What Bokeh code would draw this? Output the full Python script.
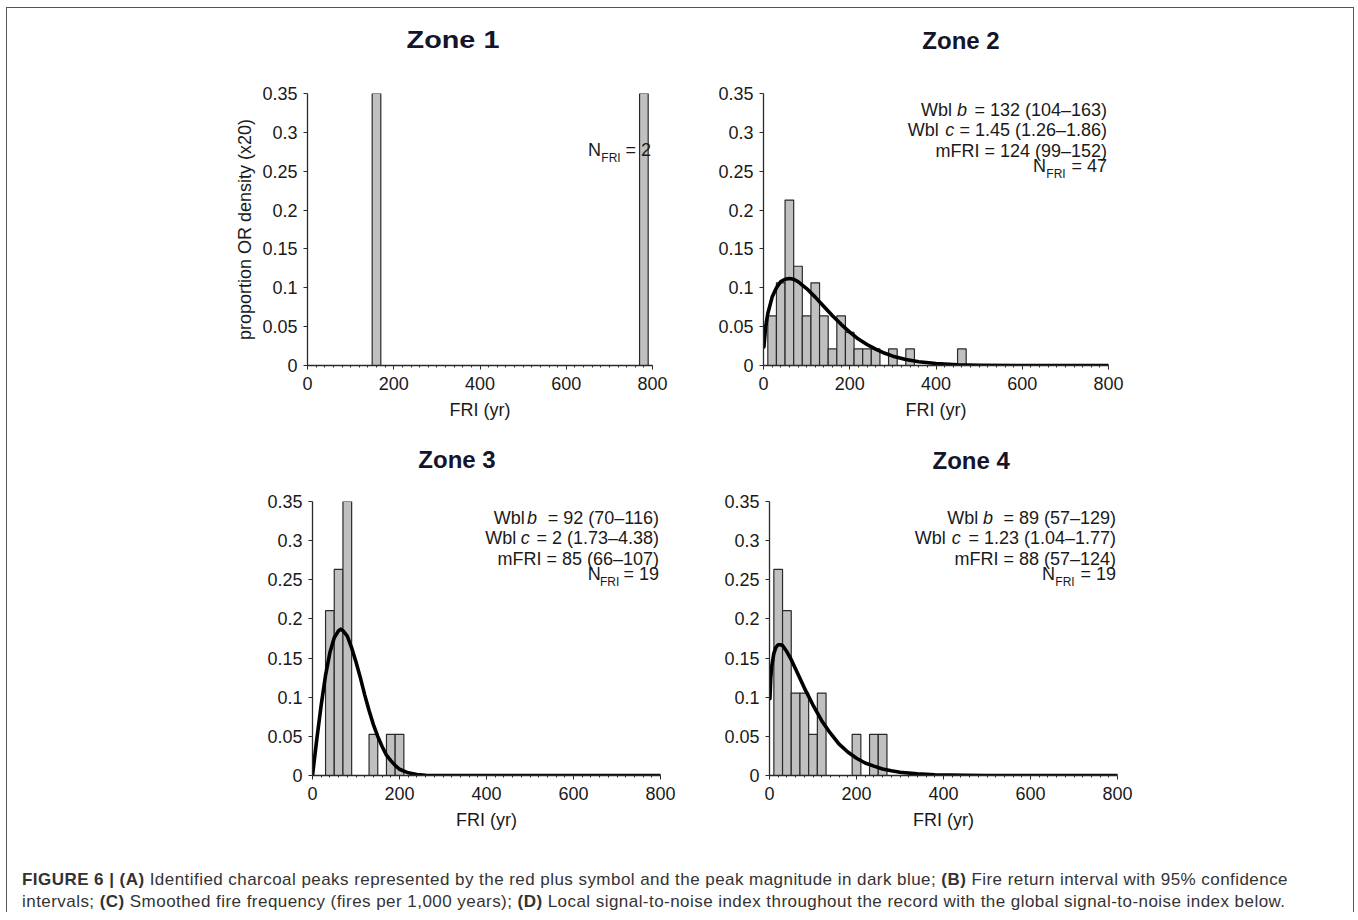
from bokeh.plotting import figure
from bokeh.models import Label, FixedTicker, Div
from bokeh.layouts import row, column
from bokeh.embed import file_html
from bokeh.resources import INLINE

# ---------------- data ----------------
zone_titles = ["Zone 1", "Zone 2", "Zone 3", "Zone 4"]

x_ticks = [0, 200, 400, 600, 800]
y_ticks = [0, 0.05, 0.1, 0.15, 0.2, 0.25, 0.3, 0.35]
y_tick_labels = ["0", "0.05", "0.1", "0.15", "0.2", "0.25", "0.3", "0.35"]

bin_width = 20

z1_centers = [160, 780]
z1_props = [0.5, 0.5]

z2_centers = [20, 40, 60, 80, 100, 120, 140, 160, 180, 200, 220, 240, 260, 300, 340, 460]
z2_props = [0.0638, 0.1064, 0.2128, 0.1277, 0.0638, 0.1064, 0.0638, 0.0213, 0.0638,
            0.0426, 0.0213, 0.0213, 0.0213, 0.0213, 0.0213, 0.0213]

z3_centers = [40, 60, 80, 140, 180, 200]
z3_props = [0.2105, 0.2632, 0.3684, 0.0526, 0.0526, 0.0526]

z4_centers = [20, 40, 60, 80, 100, 120, 200, 240, 260]
z4_props = [0.2632, 0.2105, 0.1053, 0.1053, 0.0526, 0.1053, 0.0526, 0.0526, 0.0526]

z2_curve_x = [1, 5, 10, 20, 30, 40, 50, 60, 70, 80, 100, 120, 140, 160, 180, 200, 220, 240,
              260, 280, 300, 330, 360, 400, 450, 500, 600, 700, 800]
z2_curve_y = [0.024, 0.050, 0.067, 0.088, 0.100, 0.108, 0.111, 0.112, 0.111, 0.108, 0.099,
              0.088, 0.076, 0.064, 0.053, 0.043, 0.034, 0.027, 0.021, 0.016, 0.012, 0.0076,
              0.0048, 0.0025, 0.001, 0.0004, 0.0, 0.0, 0.0]

z3_curve_x = [0, 10, 20, 30, 40, 50, 60, 65, 70, 80, 90, 100, 110, 120, 130, 140, 150, 160,
              170, 180, 190, 200, 220, 240, 260, 300, 400, 500, 600, 700, 800]
z3_curve_y = [0.0, 0.047, 0.090, 0.128, 0.157, 0.176, 0.185, 0.187, 0.185, 0.178, 0.163,
              0.145, 0.125, 0.103, 0.083, 0.065, 0.050, 0.037, 0.026, 0.019, 0.013, 0.008,
              0.0034, 0.0013, 0.0004, 0.0, 0.0, 0.0, 0.0, 0.0, 0.0]

z4_curve_x = [1, 3, 5, 10, 15, 20, 25, 30, 40, 50, 60, 80, 100, 120, 140, 160, 180, 200, 220,
              240, 260, 280, 300, 340, 380, 450, 500, 600, 700, 800]
z4_curve_y = [0.098, 0.125, 0.139, 0.156, 0.164, 0.167, 0.167, 0.166, 0.158, 0.148, 0.136,
              0.112, 0.090, 0.070, 0.054, 0.040, 0.030, 0.022, 0.016, 0.012, 0.0084, 0.006,
              0.0042, 0.0021, 0.001, 0.0002, 0.0, 0.0, 0.0, 0.0]

z2_stats = ["= 132 (104\u2013163)", "= 1.45 (1.26\u20131.86)", "mFRI = 124 (99\u2013152)", "= 47"]
z3_stats = ["= 92 (70\u2013116)", "= 2 (1.73\u20134.38)", "mFRI = 85 (66\u2013107)", "= 19"]
z4_stats = ["= 89 (57\u2013129)", "= 1.23 (1.04\u20131.77)", "mFRI = 88 (57\u2013124)", "= 19"]
z1_stats = ["= 2"]

# ---------------- style / layout ----------------
FONT = "Liberation Sans"
BW = 1.5                       # outer frame border width
ML, MT = 6, 7                  # outer margin of the layout
OX, OY = ML + BW, MT + BW      # page origin of the layout content
CW = 1346                      # content width
TH = 60                        # title strip height
ROW1_H, ROW2_H, CAP_H = 360, 362, 62


def make_panel(W, H, bl, br, bt, bb, ylabel=None):
    p = figure(width=W, height=H, x_range=(0, 800), y_range=(0, 0.35),
               output_backend="svg", toolbar_location=None,
               min_border_left=bl, min_border_right=br,
               min_border_top=bt, min_border_bottom=bb)
    p.outline_line_color = None
    p.grid.visible = False
    p.background_fill_color = "white"
    p.border_fill_color = "white"

    xa = p.xaxis[0]
    xa.ticker = FixedTicker(ticks=x_ticks, minor_ticks=list(range(0, 801, bin_width)))
    xa.axis_label = "FRI (yr)"
    ya = p.yaxis[0]
    ya.ticker = FixedTicker(ticks=y_ticks, minor_ticks=[])
    ya.major_label_overrides = dict(zip(y_ticks, y_tick_labels))
    if ylabel:
        ya.axis_label = ylabel
    for ax in (xa, ya):
        ax.axis_line_color = "#2a2a2a"
        ax.axis_line_width = 1.3
        ax.major_tick_line_color = "#2a2a2a"
        ax.major_tick_in = 0
        ax.major_tick_out = 4
        ax.major_label_text_font = FONT
        ax.major_label_text_font_size = "18px"
        ax.major_label_text_color = "#1a1a1a"
        ax.axis_label_text_font = FONT
        ax.axis_label_text_font_size = "18px"
        ax.axis_label_text_font_style = "normal"
        ax.axis_label_text_color = "#1a1a1a"
    xa.minor_tick_line_color = "#2a2a2a"
    xa.minor_tick_in = 0
    xa.minor_tick_out = 2
    xa.major_label_standoff = 7
    xa.axis_label_standoff = 7
    ya.major_label_standoff = 6
    ya.axis_label_standoff = 4
    return p


def frame_geom(fx, fy, W, H, bl, br, bt, bb):
    L = OX + fx + bl
    R = OX + fx + W - br
    T = OY + fy + bt
    B = OY + fy + H - bb
    return (L, R, T, B)


def seg(p, g, px, py, text, size=18, style="normal", align="left", color="#1a1a1a"):
    L, R, T, B = g
    if align == "right":
        px = min(px, R - 1.5)   # labels are clipped to the plot frame
    x = (px - L) / (R - L) * 800
    y = (B - py) / (B - T) * 0.35
    p.add_layout(Label(x=x, y=y, text=text, text_font=FONT, text_font_size=f"{size}px",
                       text_font_style=style, text_align=align, text_baseline="alphabetic",
                       text_color=color))


def wbl_block(p, g, stats, pos):
    (b_x, b_i, c_x, c_i, rx, n_x, fri_x, n_rx) = pos
    y1, y2, y3, y4, y4s = g[2] + 16.5, g[2] + 36.5, g[2] + 57, g[2] + 72.5, g[2] + 80.5
    seg(p, g, b_x, y1, "Wbl")
    seg(p, g, b_i, y1, "b", style="italic")
    seg(p, g, rx, y1, stats[0], align="right")
    seg(p, g, c_x, y2, "Wbl")
    seg(p, g, c_i, y2, "c", style="italic")
    seg(p, g, rx, y2, stats[1], align="right")
    seg(p, g, rx, y3, stats[2], align="right")
    seg(p, g, n_x, y4, "N")
    seg(p, g, fri_x, y4s, "FRI", size=12)
    seg(p, g, n_rx, y4, stats[3], align="right")


def bars(p, centers, props):
    p.vbar(x=centers, width=bin_width, top=props, bottom=0,
           fill_color="#c0c0c0", line_color="#2a2a2a", line_width=1.2)


def curve(p, xs, ys):
    p.line(xs, ys, line_color="black", line_width=3.6, line_join="round", line_cap="round")


def title_strip(items, strip_top):
    spans = []
    for text, cx, base, sx in items:
        top = base - strip_top - 20.3
        spans.append(
            f'<span style="position:absolute; left:{cx - OX:.1f}px; top:{top:.1f}px; '
            f'transform:translateX(-50%) scaleX({sx}); font-family:\'{FONT}\', Arial, sans-serif; '
            f'font-weight:bold; font-size:24px; line-height:24px; color:#14142a; '
            f'white-space:nowrap;">{text}</span>')
    html = (f'<div style="position:relative; width:{CW}px; height:{TH}px; overflow:hidden;">'
            + "".join(spans) + '</div>')
    return Div(text=html, width=CW, height=TH, margin=0)


# ---- row 1 ----
y_row1 = TH
P1 = dict(W=692, H=ROW1_H, bl=300, br=47, bt=25, bb=63)
p1 = make_panel(P1["W"], P1["H"], P1["bl"], P1["br"], P1["bt"], P1["bb"],
                ylabel="proportion OR density (x20)")
g1 = frame_geom(0, y_row1, **P1)
bars(p1, z1_centers, z1_props)
seg(p1, g1, 588, 150, "N")
seg(p1, g1, 601.3, 158.3, "FRI", size=12)
seg(p1, g1, 655, 150, z1_stats[0], align="right")

P2 = dict(W=CW - 692, H=ROW1_H, bl=64, br=CW - 692 - 64 - 345, bt=25, bb=63)
p2 = make_panel(P2["W"], P2["H"], P2["bl"], P2["br"], P2["bt"], P2["bb"])
g2 = frame_geom(692, y_row1, **P2)
bars(p2, z2_centers, z2_props)
curve(p2, z2_curve_x, z2_curve_y)
wbl_block(p2, g2, z2_stats, (921, 957, 907.7, 945.3, 1112.3, 1033, 1046.3, 1108.3))

t1 = title_strip([(zone_titles[0], 453, 48.5, 1.2), (zone_titles[1], 961.5, 50, 1.0)], OY)

# ---- row 2 ----
y_row2 = TH + ROW1_H + TH
P3 = dict(W=700, H=ROW2_H, bl=305, br=47, bt=13, bb=75)
p3 = make_panel(P3["W"], P3["H"], P3["bl"], P3["br"], P3["bt"], P3["bb"])
g3 = frame_geom(0, y_row2, **P3)
bars(p3, z3_centers, z3_props)
curve(p3, z3_curve_x, z3_curve_y)
wbl_block(p3, g3, z3_stats, (493.7, 527, 485.3, 520.7, 663.3, 587.7, 600, 661.7))

P4 = dict(W=CW - 700, H=ROW2_H, bl=62, br=CW - 700 - 62 - 348, bt=13, bb=75)
p4 = make_panel(P4["W"], P4["H"], P4["bl"], P4["br"], P4["bt"], P4["bb"])
g4 = frame_geom(700, y_row2, **P4)
bars(p4, z4_centers, z4_props)
curve(p4, z4_curve_x, z4_curve_y)
wbl_block(p4, g4, z4_stats, (947.3, 983, 914.7, 951.7, 1122, 1042, 1055.3, 1118.3))

t2 = title_strip([(zone_titles[2], 457.5, 469, 1.0), (zone_titles[3], 971.7, 470, 1.0)],
                 OY + TH + ROW1_H)

caption_html = (
    '<div style="padding:19px 0 0 15px; font-family:\'Liberation Sans\', Arial, sans-serif; '
    'font-size:17px; letter-spacing:0.45px; line-height:22px; color:#333; white-space:nowrap;">'
    '<b>FIGURE 6 | (A)</b> Identified charcoal peaks represented by the red plus symbol and the '
    'peak magnitude in dark blue; <b>(B)</b> Fire return interval with 95% confidence<br>'
    'intervals; <b>(C)</b> Smoothed fire frequency (fires per 1,000 years); <b>(D)</b> Local '
    'signal-to-noise index throughout the record with the global signal-to-noise index below.'
    '</div>')
cap = Div(text=caption_html, width=CW, height=CAP_H, margin=0)

layout = column(t1, row(p1, p2), t2, row(p3, p4), cap,
                styles={"margin-left": f"{ML}px", "margin-top": f"{MT}px",
                        "border-left": f"{BW}px solid #555",
                        "border-top": f"{BW}px solid #555",
                        "border-right": f"{BW}px solid #555",
                        "background-color": "white"})

open("out.html", "w").write(file_html(layout, INLINE))
